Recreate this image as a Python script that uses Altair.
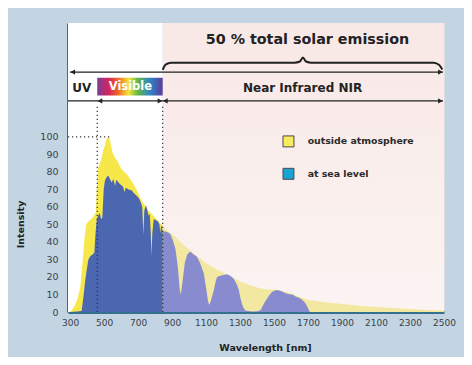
import altair as alt
import pandas as pd

# ---------------- data ----------------
OUT_NM = [300, 310, 330, 345, 360, 375, 385, 395, 410, 425, 440, 452, 458, 465, 480, 495, 505, 515, 525, 535,
          550, 565, 580, 600, 620, 640, 660, 680, 700, 720, 740, 760, 780, 800, 820, 845,
          880, 920, 960, 1000, 1050, 1100, 1150, 1200, 1250, 1300, 1350, 1400, 1450, 1500, 1550, 1600,
          1650, 1700, 1800, 1900, 2000, 2100, 2200, 2300, 2400, 2500]
OUT_VAL = [0, 1, 4, 8, 14, 30, 42, 50, 52, 53, 55, 57, 72, 82, 86, 92, 95, 99, 100, 98,
           91, 88, 86, 82, 80, 78, 75, 72, 68, 64, 61, 58, 56, 54, 52, 49,
           46, 43, 39, 35.5, 31.5, 28, 25, 22.5, 20, 17.5, 15.5, 14, 13, 12.8, 12, 10.5,
           8.5, 7, 5.6, 4.5, 3.6, 2.9, 2.3, 1.7, 1.2, 0.8]

SEA_NM = [300, 340, 368, 378, 388, 398, 408, 420, 435, 443, 450, 457, 465, 475, 483, 490, 498, 505, 515, 525,
          535, 545, 555, 565, 572, 585, 600, 612, 620, 628, 645, 662, 675, 690, 705, 715, 725, 731, 737,
          747, 755, 762, 769, 775, 779, 784, 792, 805, 818, 826, 831, 836, 845,
          860, 875, 890, 905, 920, 935, 945, 952, 960, 975, 990, 1008, 1025, 1047, 1065, 1087, 1100, 1112,
          1120, 1130, 1146, 1158, 1165, 1180, 1195, 1210, 1224, 1245, 1263, 1280, 1293, 1305, 1317, 1330,
          1345, 1380, 1410, 1425, 1431, 1445, 1460, 1475, 1490, 1505, 1519, 1540, 1568, 1590, 1608, 1627,
          1650, 1667, 1685, 1696, 1705, 1712, 2500]
SEA_VAL = [0, 0.3, 0.5, 8, 17, 24, 30, 32, 33, 34, 45, 53, 55, 56.5, 53, 54, 70, 75, 77, 78,
           76, 74, 76, 72, 75.5, 74, 72.5, 71.5, 68.5, 71, 70, 69.5, 68, 66.5, 65, 63, 60, 44, 58,
           61, 58, 55, 56, 45, 32, 45, 53, 52.5, 51.5, 50, 45, 50, 46,
           46, 45.5, 44.5, 41, 36, 25, 13, 10, 16, 28, 33, 34.5, 33, 31.5, 28, 22, 14, 6,
           4, 7, 12.6, 18, 20, 20.5, 21, 21.3, 21.5, 20.5, 19, 16, 12.6, 7, 3, 1,
           0.5, 0.3, 0.5, 1.5, 3, 5.5, 7.8, 10, 11.6, 12.3, 12.6, 12, 10.7, 10.2, 10, 8.8,
           8, 6.9, 5, 3, 1, 0, 0]

X_TICKS = list(range(300, 2501, 200))
Y_TICKS = list(range(0, 101, 10))
X_DOMAIN = [288, 2500]
Y_DOMAIN = [0, 165]
VIS_START, NIR_START = 460, 845

BANDS = ["UV", "Visible", "Near Infrared NIR"]
TITLE_TEXT = "50 % total solar emission"
LEGEND_LABELS = ["outside atmosphere", "at sea level"]

FONT = "DejaVu Sans"
DARK = "#222222"

# ---------------- shared encodings ----------------
X = alt.X("nm:Q", scale=alt.Scale(domain=X_DOMAIN, nice=False, zero=False),
          axis=alt.Axis(values=X_TICKS, format="d", title="Wavelength [nm]", grid=False,
                        labelOverlap=False, labelFlush=False,
                        tickSize=0, labelPadding=6, labelFontSize=9, labelColor="#3a3f4a",
                        labelFont=FONT, titleFont=FONT, titleFontSize=9.5, titleFontWeight="bold",
                        titleColor=DARK, titleX=197, titleY=30, titleAnchor="middle",
                        domainColor="#35708f", domainWidth=3))
Y = alt.Y("val:Q", scale=alt.Scale(domain=Y_DOMAIN, nice=False),
          axis=alt.Axis(values=Y_TICKS, format="d", title="Intensity", grid=False,
                        labelOverlap=False, labelFlush=False,
                        tickSize=0, labelPadding=10, labelFontSize=9.5, labelColor="#3a3f4a",
                        labelFont=FONT, titleFont=FONT, titleFontSize=9.5, titleFontWeight="bold",
                        titleColor=DARK, titleX=-45, titleY=201, titleAngle=-90,
                        titleBaseline="alphabetic", titleAnchor="middle",
                        domainColor="#35708f", domainWidth=3))


def split(nm, val):
    df = pd.DataFrame({"nm": nm, "val": val})
    return df[df.nm <= NIR_START], df[df.nm >= NIR_START]


out_a, out_b = split(OUT_NM, OUT_VAL)
sea_a, sea_b = split(SEA_NM, SEA_VAL)

# background regions
white = alt.Chart(pd.DataFrame({"nm": [X_DOMAIN[0]], "nm2": [NIR_START],
                                "val": [Y_DOMAIN[0]], "val2": [Y_DOMAIN[1]]})).mark_rect(
    color="#ffffff").encode(x=X, x2="nm2:Q", y=Y, y2="val2:Q")
pink = alt.Chart(pd.DataFrame({"nm": [NIR_START], "nm2": [X_DOMAIN[1]],
                               "val": [Y_DOMAIN[0]], "val2": [Y_DOMAIN[1]]})).mark_rect(
    color=alt.LinearGradient(gradient="linear", x1=0, x2=0, y1=0, y2=1,
                             stops=[alt.GradientStop(offset=0, color="#f8e8e6"),
                                    alt.GradientStop(offset=1, color="#fbf4f2")])
).encode(x=X, x2="nm2:Q", y=Y, y2="val2:Q")

area_out_a = alt.Chart(out_a).mark_area(color="#f6e74a", interpolate="linear").encode(x=X, y=Y)
area_out_b = alt.Chart(out_b).mark_area(color="#f2e8a2", interpolate="linear").encode(x=X, y=Y)
area_sea_a = alt.Chart(sea_a).mark_area(color="#4a67b0", interpolate="linear").encode(x=X, y=Y)
area_sea_b = alt.Chart(sea_b).mark_area(color="#888cce", interpolate="linear").encode(x=X, y=Y)

# dotted guide lines
vdots = alt.Chart(pd.DataFrame({"nm": [VIS_START, NIR_START], "val": [0, 0], "val2": [118, 118]})).mark_rule(
    color="#333", strokeWidth=1.2, strokeDash=[1.2, 2.8]).encode(x=X, y=Y, y2="val2:Q")
hdots = alt.Chart(pd.DataFrame({"nm": [X_DOMAIN[0]], "nm2": [540], "val": [100]})).mark_rule(
    color="#333", strokeWidth=1.2, strokeDash=[1.2, 2.8]).encode(x=X, x2="nm2:Q", y=Y)

# arrow lines
arrow_lines = alt.Chart(pd.DataFrame({"nm": [300, 288], "nm2": [2494, 2494], "val": [137, 120.5]})).mark_rule(
    color=DARK, strokeWidth=1.3).encode(x=X, x2="nm2:Q", y=Y)
heads_l = alt.Chart(pd.DataFrame({"nm": [316, 476, 861], "val": [137, 120.5, 120.5]})).mark_point(
    shape="triangle-left", filled=True, color=DARK, size=28, opacity=1).encode(x=X, y=Y)
heads_r = alt.Chart(pd.DataFrame({"nm": [2479, 829, 2479], "val": [137, 120.5, 120.5]})).mark_point(
    shape="triangle-right", filled=True, color=DARK, size=28, opacity=1).encode(x=X, y=Y)

# brace
BRACE_NM = [845, 862, 895, 1620, 1652, 1670, 1688, 1720, 2440, 2472, 2490]
BRACE_VAL = [138.2, 141.2, 142.3, 142.3, 143.0, 145.3, 143.0, 142.3, 142.3, 141.0, 138.5]
brace = alt.Chart(pd.DataFrame({"nm": BRACE_NM, "val": BRACE_VAL})).mark_line(
    color=DARK, strokeWidth=2, interpolate="monotone").encode(x=X, y=Y)

# rainbow "Visible" box
rainbow = alt.Chart(pd.DataFrame({"nm": [VIS_START], "nm2": [NIR_START], "val": [123.6], "val2": [133.8]})).mark_rect(
    color=alt.LinearGradient(gradient="linear", x1=0, x2=1, y1=0, y2=0,
                             stops=[alt.GradientStop(offset=0.0, color="#7b3c9c"),
                                    alt.GradientStop(offset=0.18, color="#d8245a"),
                                    alt.GradientStop(offset=0.32, color="#ef6a24"),
                                    alt.GradientStop(offset=0.48, color="#f5e43a"),
                                    alt.GradientStop(offset=0.62, color="#62b846"),
                                    alt.GradientStop(offset=0.8, color="#2f86c8"),
                                    alt.GradientStop(offset=1.0, color="#5a3c9a")])
).encode(x=X, x2="nm2:Q", y=Y, y2="val2:Q")

# texts
title_t = alt.Chart(pd.DataFrame({"nm": [1697], "val": [155.3], "label": [TITLE_TEXT]})).mark_text(
    font=FONT, fontSize=14.3, fontWeight="bold", color=DARK, baseline="middle", align="center"
).encode(x=X, y=Y, text="label:N")
band_dark = alt.Chart(pd.DataFrame({"nm": [369, 1668], "val": [127.9, 127.9], "label": [BANDS[0], BANDS[2]]})).mark_text(
    font=FONT, fontSize=12, fontWeight="bold", color=DARK, baseline="middle", align="center"
).encode(x=X, y=Y, text="label:N")
band_vis = alt.Chart(pd.DataFrame({"nm": [655], "val": [128.2], "label": [BANDS[1]]})).mark_text(
    font=FONT, fontSize=11.5, fontWeight="bold", color="white", baseline="middle", align="center"
).encode(x=X, y=Y, text="label:N")

# legend
leg_sq = alt.Chart(pd.DataFrame({"nm": [1585, 1585], "val": [97.4, 78.9],
                                 "label": LEGEND_LABELS})).mark_square(
    size=120, filled=True, stroke="#4a4a4a", strokeWidth=1, opacity=1).encode(
    x=X, y=Y,
    color=alt.Color("label:N", scale=alt.Scale(domain=LEGEND_LABELS, range=["#f7ec5e", "#1aa3d2"]), legend=None))
leg_tx = alt.Chart(pd.DataFrame({"nm": [1698, 1698], "val": [97.4, 78.9], "label": LEGEND_LABELS})).mark_text(
    font=FONT, fontSize=9.4, fontWeight="bold", color="#2a2a2a", baseline="middle", align="left"
).encode(x=X, y=Y, text="label:N")

chart = alt.layer(
    white, pink, area_out_a, area_out_b, area_sea_a, area_sea_b, vdots, hdots,
    arrow_lines, heads_l, heads_r, brace, rainbow, title_t, band_dark, band_vis, leg_sq, leg_tx
).properties(
    width=376, height=289,
    autosize=alt.AutoSizeParams(type="none"),
    padding={"left": 60, "top": 15, "right": 20, "bottom": 45},
    background="#c3d5e2",
).configure_view(stroke=None).configure(font=FONT)

chart.save("out.html", embed_options={"renderer": "svg", "actions": False})
